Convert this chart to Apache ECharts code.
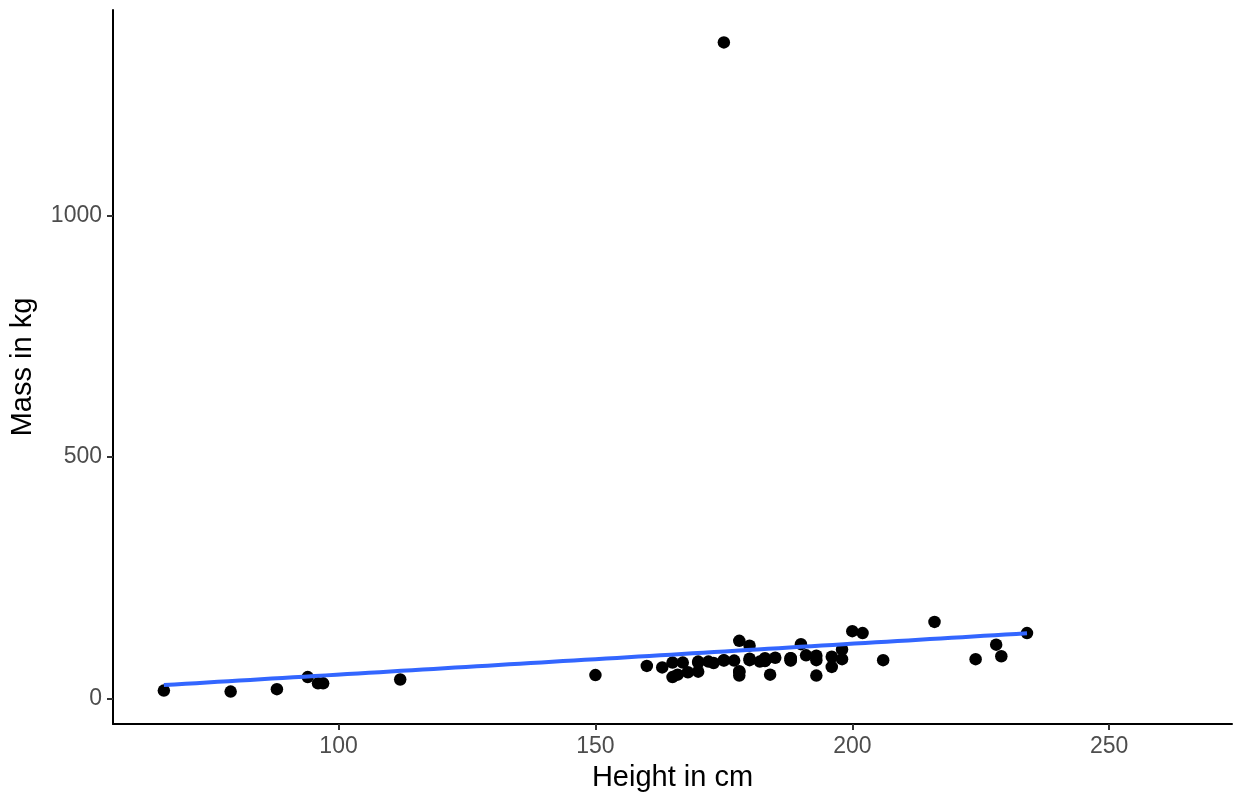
<!DOCTYPE html>
<html><head><meta charset="utf-8">
<script src="https://cdn.jsdelivr.net/npm/echarts@6/dist/echarts.min.js"></script>
<style>html,body{margin:0;padding:0;background:#fff}#c{width:1235px;height:797px}</style>
</head><body><div id="c"></div>
<script>
// Star Wars characters: height (cm) and mass (kg)
const heights = [172,167,96,202,150,178,165,97,183,182,188,228,180,173,175,170,180,66,170,183,200,190,177,175,180,88,160,191,196,224,112,175,178,79,94,163,188,198,196,184,188,185,183,170,166,193,183,168,198,229,193,178,216,234,188,178,206,165,193];
const masses  = [77,75,32,136,49,120,75,32,84,77,84,112,80,74,1358,77,110,17,75,78.2,140,113,79,79,83,20,68,90,66,82,40,80,55,15,45,65,84,82,87,50,80,85,80,56.2,50,80,79,55,102,88,48,57,159,136,79,48,80,45,89];
const xTicks = [100,150,200,250];
const yTicks = [0,500,1000];
const xLimits = [56.1, 273.9];
const yLimits = [-52.15, 1425.15];

const pts = heights.map((h,i)=>[h, masses[i]]);
// least-squares fit (geom_smooth method = lm)
const n = heights.length;
const mx = heights.reduce((a,b)=>a+b,0)/n;
const my = masses.reduce((a,b)=>a+b,0)/n;
let sxy=0, sxx=0;
for(let i=0;i<n;i++){sxy+=(heights[i]-mx)*(masses[i]-my); sxx+=(heights[i]-mx)**2;}
const slope = sxy/sxx, icpt = my - slope*mx;
const hMin = Math.min(...heights), hMax = Math.max(...heights);
const fitLine = [];
for(let k=0;k<=80;k++){const x=hMin+(hMax-hMin)*k/80; fitLine.push([x, icpt+slope*x]);}

const chart = echarts.init(document.getElementById('c'));
const FF = 'Liberation Sans';
const axisCommon = {
  axisLine:{show:true,onZero:false,lineStyle:{color:'#000',width:2}},
  axisTick:{show:true,length:6,lineStyle:{color:'#333',width:2}},
  splitLine:{show:false},
  nameLocation:'middle',
  nameTextStyle:{color:'#000',fontSize:29,fontFamily:FF}
};
const lbl = (vals)=>({customValues:vals,color:'#4d4d4d',fontSize:23,fontFamily:FF,margin:11,formatter:v=>String(v)});
chart.setOption({
  animation:false,
  grid:{left:113,right:3,top:10,bottom:71,containLabel:false},
  xAxis:Object.assign({},axisCommon,{
    type:'value', min:xLimits[0], max:xLimits[1], name:'Height in cm', nameGap:39,
    axisLabel:lbl(xTicks),
    axisTick:Object.assign({},axisCommon.axisTick,{customValues:xTicks})
  }),
  yAxis:Object.assign({},axisCommon,{
    type:'value', min:yLimits[0], max:yLimits[1], name:'Mass in kg', nameGap:76,
    axisLabel:lbl(yTicks),
    axisTick:Object.assign({},axisCommon.axisTick,{customValues:yTicks})
  }),
  series:[
    {type:'scatter',data:pts,symbolSize:12.5,itemStyle:{color:'#000',opacity:1},silent:true},
    {type:'line',data:fitLine,showSymbol:false,lineStyle:{color:'#3366FF',width:4},silent:true}
  ]
});
</script></body></html>
